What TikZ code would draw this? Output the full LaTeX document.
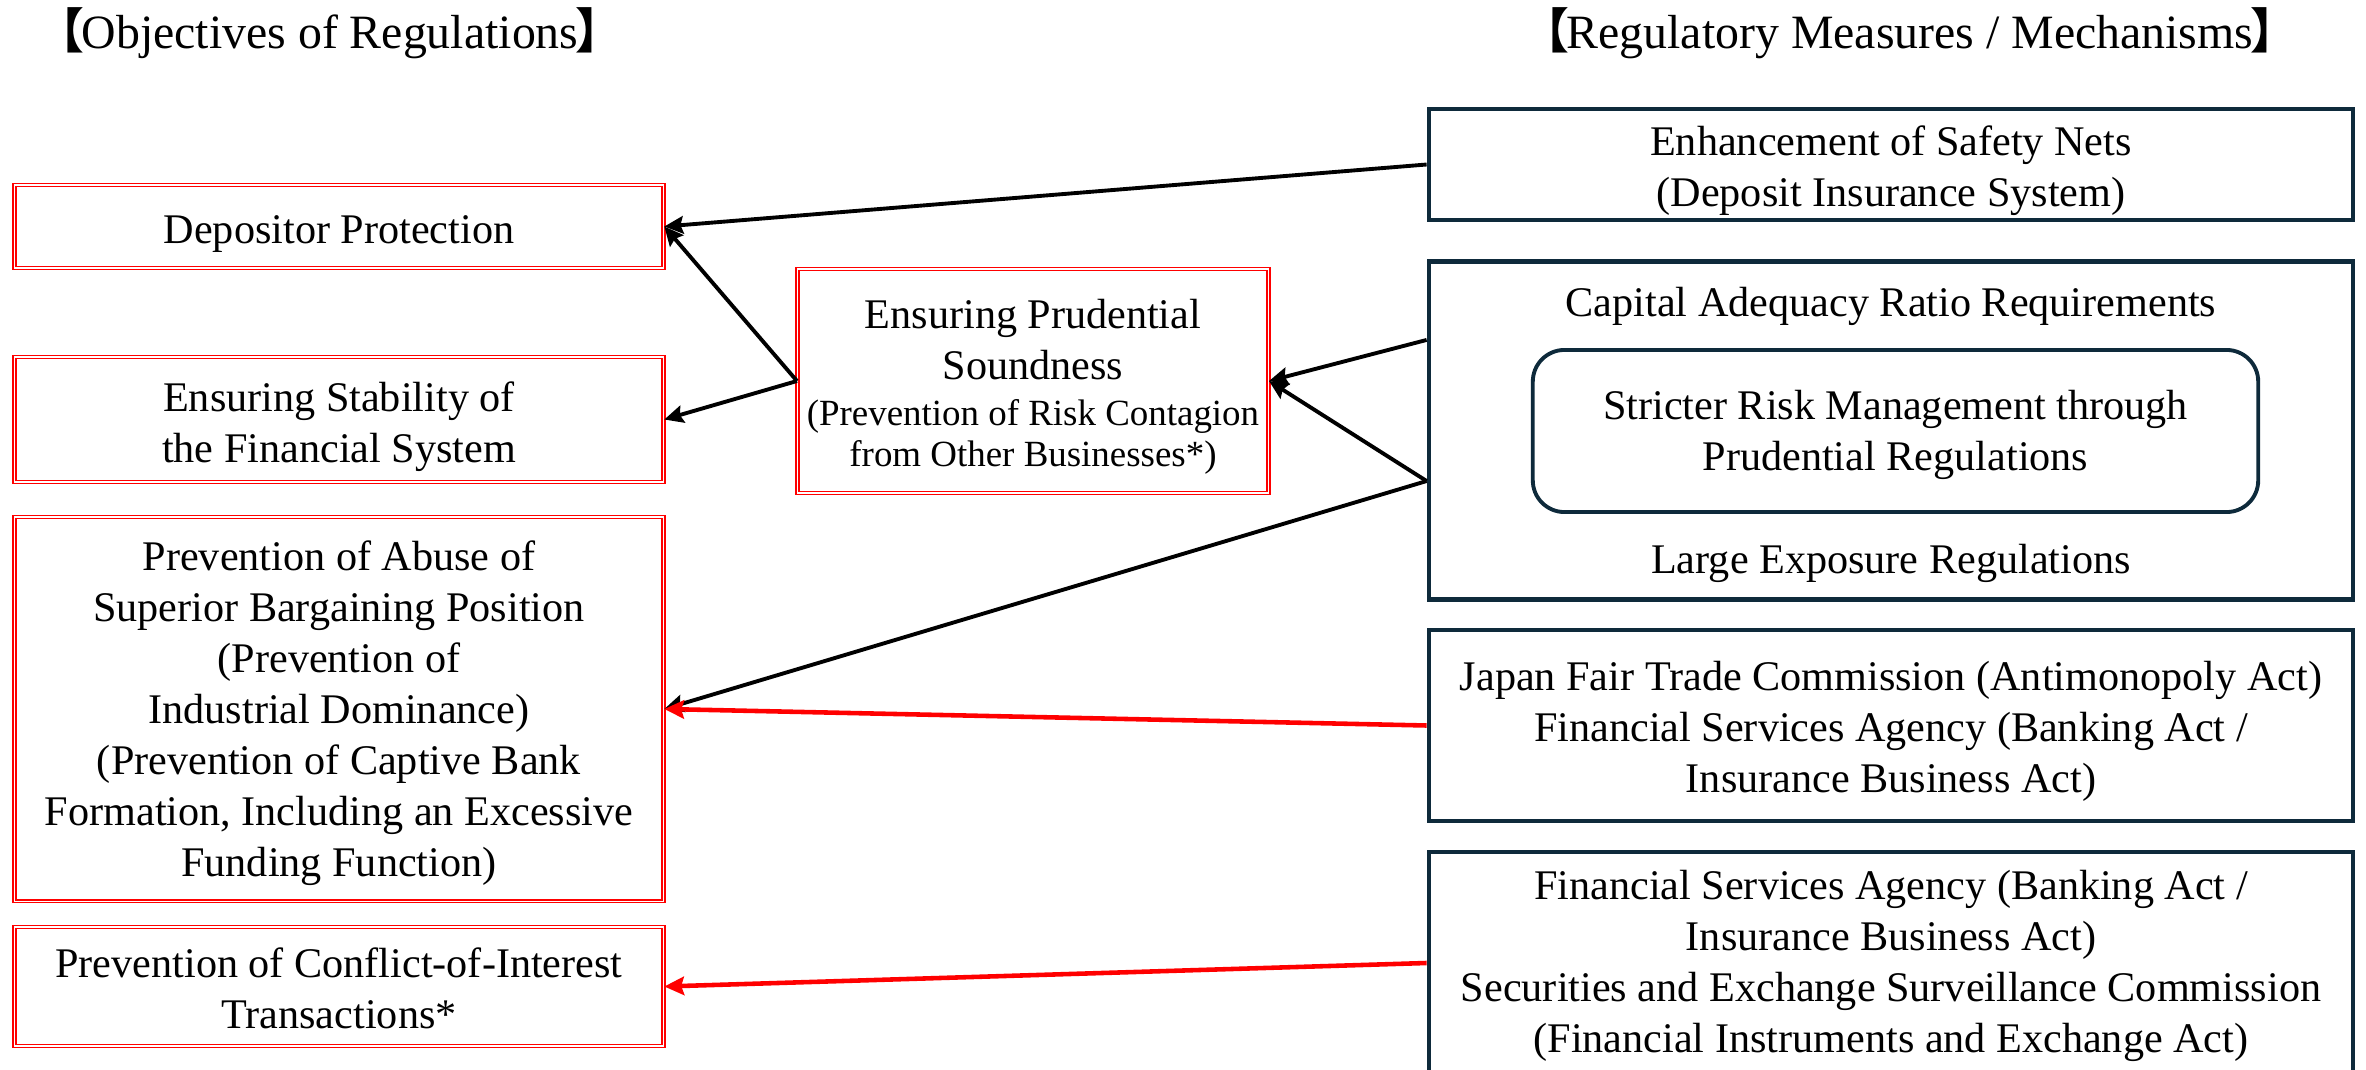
\documentclass[tikz,border=0pt]{standalone}
\usepackage{fontspec}
\setmainfont{Liberation Serif}
\newfontfamily\cjk{Noto Sans CJK JP}
\usetikzlibrary{arrows.meta}
\definecolor{navy}{HTML}{0E2A3B}
\newcommand{\lbr}{{\cjk\bfseries 【}\kern-0.06em}
\newcommand{\rbr}{\kern-0.06em{\cjk\bfseries 】}}
\begin{document}
\begin{tikzpicture}[x=0.01cm,y=-0.01cm,
  txt/.style={font=\fontsize{12}{14.5}\selectfont, align=center, inner sep=0pt},
  objbox/.style={draw=red, double=white, line width=0.5pt, double distance=0.35pt, inner sep=0pt},
  measbox/.style={draw=navy, line width=1.2pt, inner sep=0pt},
  innerbox/.style={draw=navy, line width=1.1pt, rounded corners=9pt, inner sep=0pt},
  titletxt/.style={font=\fontsize{13.6}{16}\selectfont, inner sep=0pt},
  conn/.style={draw=black, line width=1.1pt, -{Stealth[length=5.4pt,width=5pt,inset=0.8pt]}},
  rconn/.style={draw=red, line width=1.3pt, -{Stealth[length=5.6pt,width=5.2pt,inset=0.8pt]}}
]
\useasboundingbox (0,0) rectangle (2366,1070);

% titles
\node[titletxt] (ltitle) at (330,33) {\lbr Objectives of Regulations\rbr};
\node[titletxt] (rtitle) at (1910,33) {\lbr Regulatory Measures / Mechanisms\rbr};

% objectives (left)
\node[objbox, minimum width=6.485cm, minimum height=0.83cm] (dep) at (339,226.5) {};
\node[txt] (depT) at ([yshift=-0.075cm]dep.center) {Depositor Protection};
\node[objbox, minimum width=6.485cm, minimum height=1.25cm] (stab) at (339,419.5) {};
\node[txt] (stabT) at ([yshift=-0.07cm]stab.center) {Ensuring Stability of\\the Financial System};
\node[objbox, minimum width=6.485cm, minimum height=3.84cm] (abuse) at (339,709) {};
\node[txt] (abuseT) at ([yshift=-0.045cm]abuse.center) {Prevention of Abuse of\\Superior Bargaining Position\\(Prevention of\\Industrial Dominance)\\(Prevention of Captive Bank\\Formation, Including an Excessive\\Funding Function)};
\node[objbox, minimum width=6.485cm, minimum height=1.19cm] (conf) at (339,986.5) {};
\node[txt] (confT) at ([yshift=-0.015cm]conf.center) {Prevention of Conflict-of-Interest\\Transactions*};

% middle
\node[objbox, minimum width=4.70cm, minimum height=2.24cm] (prud) at (1033,381) {};
\node[txt] (prudT) at ([yshift=-0.06cm]prud.center) {Ensuring Prudential\\Soundness\\[-1.4pt]{\fontsize{10.5}{12}\selectfont (Prevention of Risk Contagion}\\[-2.9pt]{\fontsize{10.5}{12}\selectfont from Other Businesses*)}};

% measures (right)
\node[measbox, minimum width=9.24cm, minimum height=1.11cm] (safety) at (1891,164.5) {};
\node[txt] (safetyT) at ([yshift=-0.06cm]safety.center) {Enhancement of Safety Nets\\(Deposit Insurance System)};
\node[measbox, minimum width=9.24cm, minimum height=3.38cm] (capital) at (1891,430.5) {};
\node[txt] (car) at (1891,306) {Capital Adequacy Ratio Requirements};
\node[innerbox, minimum width=7.25cm, minimum height=1.62cm] (strict) at (1895.5,431) {};
\node[txt] (strictT) at ([yshift=-0.035cm]strict.center) {Stricter Risk Management through\\Prudential Regulations};
\node[txt] (large) at (1891,563) {Large Exposure Regulations};
\node[measbox, minimum width=9.24cm, minimum height=1.91cm] (jftc) at (1891,725.5) {};
\node[txt] (jftcT) at ([yshift=-0.055cm]jftc.center) {Japan Fair Trade Commission (Antimonopoly Act)\\Financial Services Agency (Banking Act /\\Insurance Business Act)};
\node[measbox, minimum width=9.24cm, minimum height=2.22cm] (fsa) at (1891,963) {};
\node[txt] (fsaT) at ([yshift=-0.03cm]fsa.center) {Financial Services Agency (Banking Act /\\Insurance Business Act)\\Securities and Exchange Surveillance Commission\\(Financial Instruments and Exchange Act)};

% connector end points on the capital box
\coordinate (capA) at ([yshift=0.905cm]capital.west);
\coordinate (capB) at ([yshift=-0.505cm]capital.west);

% connectors
\draw[conn] (safety.west) -- (dep.east);
\draw[conn] (prud.west) -- (dep.east);
\draw[conn] (prud.west) -- (stab.east);
\draw[conn] (capA) -- (prud.east);
\draw[conn] (capB) -- (prud.east);
\draw[conn] (capB) -- (abuse.east);
\draw[rconn] (jftc.west) -- (abuse.east);
\draw[rconn] (fsa.west) -- (conf.east);
\end{tikzpicture}
\end{document}
